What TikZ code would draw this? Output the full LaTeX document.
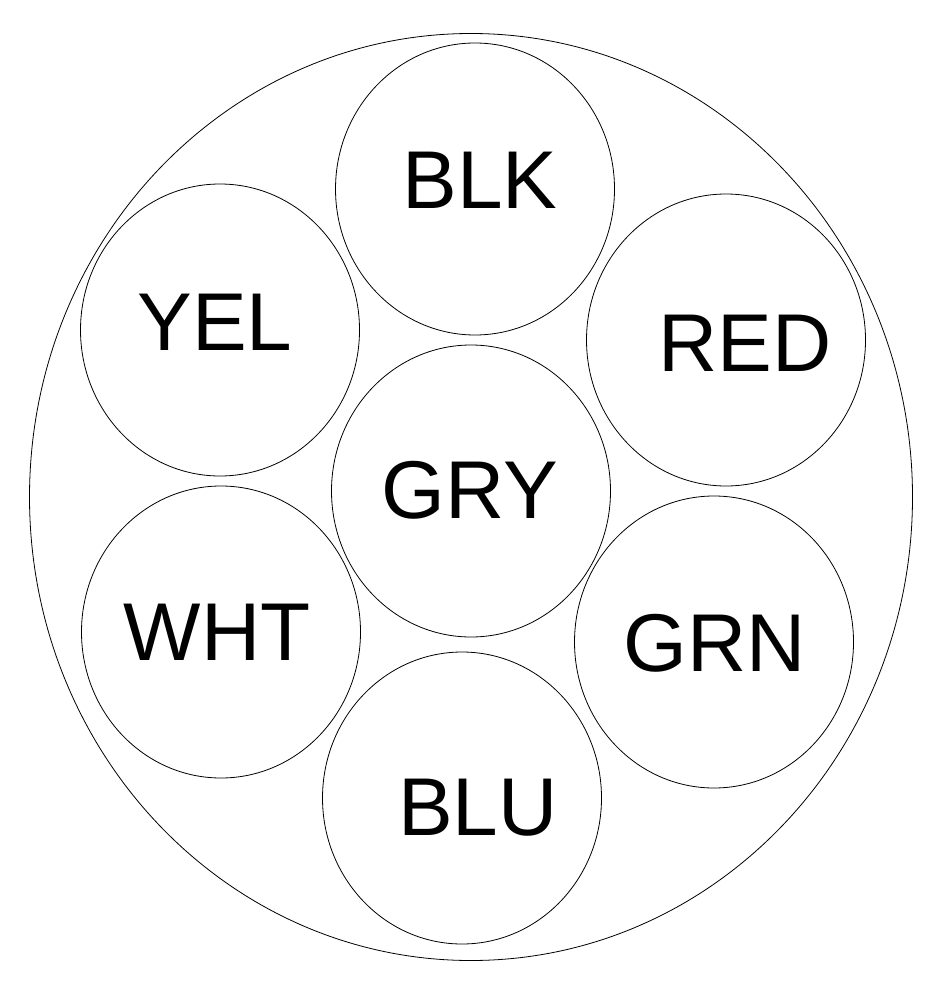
\documentclass[tikz,border=0pt]{standalone}
\usepackage{fontspec}
\setmainfont{Liberation Sans}
\usetikzlibrary{shapes.geometric}
\begin{document}
\begin{tikzpicture}[x=1pt,y=-1pt,
  wire/.style={draw,ellipse,line width=0.8pt,minimum width=279pt,minimum height=292pt,inner sep=0pt},
  lbl/.style={font=\fontsize{82}{82}\selectfont,inner sep=0pt}]
\useasboundingbox (0,0) rectangle (945,1000);
\node[draw,ellipse,line width=0.8pt,minimum width=883pt,minimum height=927pt,inner sep=0pt] (outer) at (471,497) {};
\node[wire] (blk) at (475,189) {};
\node[wire] (yel) at (220,330) {};
\node[wire] (red) at (726,340) {};
\node[wire] (gry) at (471,491) {};
\node[wire] (wht) at (221,632) {};
\node[wire] (grn) at (714,642) {};
\node[wire] (blu) at (462,798) {};
\node[lbl] (tblk) at (480,180) {BLK};
\node[lbl] (tyel) at (215,322) {YEL};
\node[lbl] (tred) at (745,343) {RED};
\node[lbl] (tgry) at (470,490) {GRY};
\node[lbl] (twht) at (217,632) {WHT};
\node[lbl] (tgrn) at (715,643) {GRN};
\node[lbl] (tblu) at (478,808) {BLU};
\end{tikzpicture}
\end{document}
